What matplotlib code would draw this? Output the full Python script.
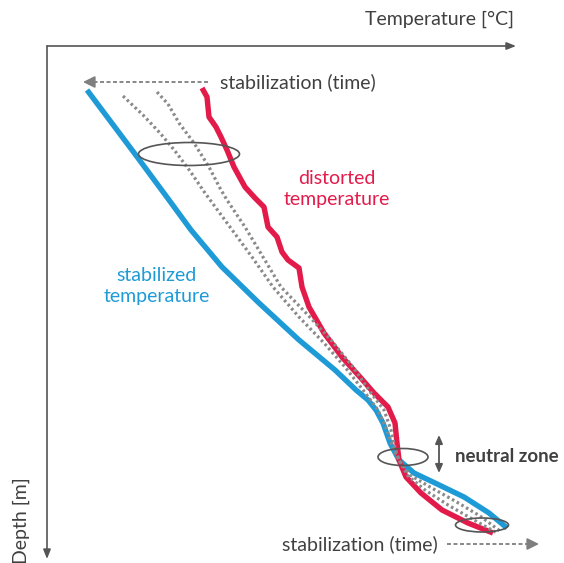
import matplotlib
matplotlib.use("Agg")
import matplotlib.pyplot as plt
from matplotlib.patches import Ellipse

plt.rcParams['font.family'] = ['Lato', 'DejaVu Sans']

# Schematic profile data (temperature position, depth position) in picture units
blue_temp = [87, 99, 111, 123, 135, 152, 169, 191, 222, 259, 299, 335, 356, 368, 376, 383, 390, 399, 414, 435, 464, 489, 507]
blue_depth = [90, 106, 122, 138, 154, 177, 200, 230, 267, 303, 340, 370, 390, 400, 410, 423, 443, 460, 473, 483, 497, 513, 528]

red_temp = [202, 207, 209, 216, 221, 227, 234, 245, 255, 264, 268, 277, 282, 288, 299, 302, 309, 324, 342, 360, 374, 388, 395, 397, 399, 406, 421, 442, 468, 493]
red_depth = [88, 97, 117, 127, 137, 150, 167, 187, 198, 207, 227, 237, 252, 260, 268, 287, 307, 333, 357, 377, 393, 407, 423, 443, 460, 477, 493, 510, 523, 533]

d1_temp = [123, 143, 160, 175, 190, 205, 230, 252, 273, 299, 324, 345, 363, 378, 387, 393, 399, 410, 430, 455, 480, 500]
d1_depth = [96, 115, 133, 151, 171, 193, 227, 257, 287, 317, 343, 367, 390, 410, 430, 448, 460, 475, 487, 501, 516, 531]

d2_temp = [157, 168, 179, 194, 209, 221, 227, 245, 263, 281, 306, 331, 353, 371, 384, 391, 395, 399, 408, 425, 448, 474, 497]
d2_depth = [92, 104, 123, 143, 167, 190, 200, 227, 257, 287, 313, 340, 367, 393, 410, 430, 448, 460, 476, 490, 505, 520, 533]

BLUE = '#1E9BD7'
RED = '#E31B4B'
GREY = '#8A8A8A'
DARK = '#555555'
TEXT = '#404040'
FS = 14

fig = plt.figure(figsize=(5.64, 5.63), dpi=100)
ax = fig.add_axes([0, 0, 1, 1])
ax.set_xlim(0, 564)
ax.set_ylim(563, 0)
ax.axis('off')

# axes arrows
ax.annotate('', xy=(516, 46), xytext=(47, 46),
            arrowprops=dict(arrowstyle='-|>,head_length=0.55,head_width=0.22', color=DARK, lw=1.2,
                            shrinkA=0, shrinkB=0))
ax.annotate('', xy=(47, 559), xytext=(47, 46),
            arrowprops=dict(arrowstyle='-|>,head_length=0.55,head_width=0.22', color=DARK, lw=1.2,
                            shrinkA=0, shrinkB=0))

ax.text(514, 19, 'Temperature [°C]', ha='right', va='center', fontsize=FS, color=TEXT)
ax.text(21, 521, 'Depth [m]', ha='center', va='center', rotation=90, fontsize=FS, color=TEXT)

# curves
ax.plot(d1_temp, d1_depth, color=GREY, lw=2.3, linestyle=(0, (0.8, 0.9)), dash_capstyle='butt', zorder=2)
ax.plot(d2_temp, d2_depth, color=GREY, lw=2.3, linestyle=(0, (0.8, 0.9)), dash_capstyle='butt', zorder=2)
ax.plot(blue_temp, blue_depth, color=BLUE, lw=3.9, solid_joinstyle='round', solid_capstyle='butt', zorder=1)
ax.plot(red_temp, red_depth, color=RED, lw=3.9, solid_joinstyle='round', solid_capstyle='butt', zorder=1.5)

# ellipses
for (cx, cy, w, h) in [(189, 154, 101, 23), (403, 457, 50, 17), (482, 525, 53, 14)]:
    ax.add_patch(Ellipse((cx, cy), w, h, facecolor='none', edgecolor=DARK, lw=1.2, zorder=3))

# stabilization arrows (dashed)
ax.plot([208, 92], [82, 82], color='#7F7F7F', lw=1.3, linestyle=(0, (2.2, 1.4)))
ax.annotate('', xy=(83, 82), xytext=(93, 82),
            arrowprops=dict(arrowstyle='-|>,head_length=0.7,head_width=0.35', color='#7F7F7F', lw=1.3,
                            shrinkA=0, shrinkB=0))
ax.text(220, 82, 'stabilization (time)', ha='left', va='center', fontsize=FS, color=TEXT)

ax.plot([447, 529], [544, 544], color='#7F7F7F', lw=1.3, linestyle=(0, (2.2, 1.4)))
ax.annotate('', xy=(539, 544), xytext=(529, 544),
            arrowprops=dict(arrowstyle='-|>,head_length=0.7,head_width=0.35', color='#7F7F7F', lw=1.3,
                            shrinkA=0, shrinkB=0))
ax.text(282, 544, 'stabilization (time)', ha='left', va='center', fontsize=FS, color=TEXT)

# neutral zone
ax.annotate('', xy=(439, 435), xytext=(439, 473),
            arrowprops=dict(arrowstyle='<|-|>,head_length=0.5,head_width=0.22', color=DARK, lw=1.3,
                            shrinkA=0, shrinkB=0))
ax.text(455, 457, 'neutral zone', ha='left', va='center', fontsize=13.5, fontweight='bold', color=TEXT)

# labels
ax.text(337, 189, 'distorted\ntemperature', ha='center', va='center', fontsize=FS, color=RED,
        linespacing=1.3)
ax.text(157, 286, 'stabilized\ntemperature', ha='center', va='center', fontsize=FS, color=BLUE,
        linespacing=1.3)

fig.savefig('out.png', dpi=100)
